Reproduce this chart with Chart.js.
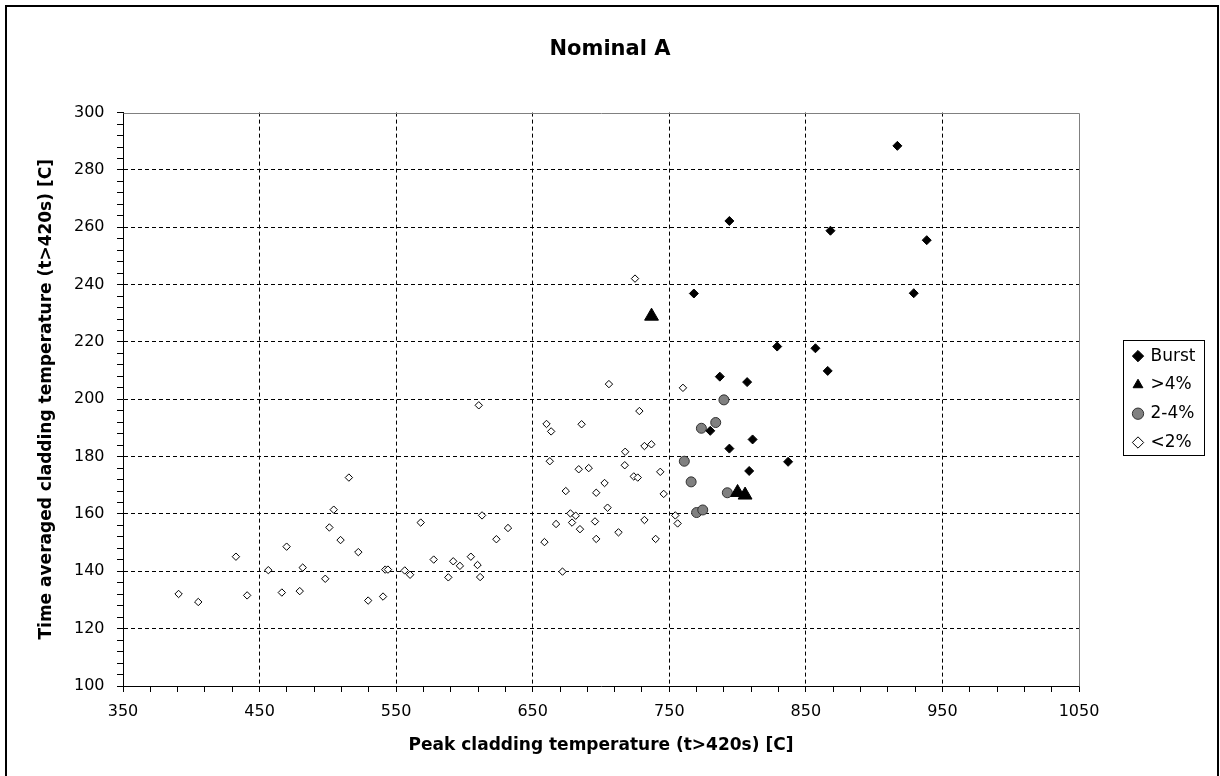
<!DOCTYPE html>
<html>
<head>
<meta charset="utf-8">
<script src="https://cdn.jsdelivr.net/npm/chart.js@4.4.1/dist/chart.umd.min.js"></script>
<style>
  html, body { margin: 0; padding: 0; background: #ffffff; }
  #wrap { position: relative; width: 1220px; height: 776px; }
  canvas { display: block; }
</style>
</head>
<body>
<div id="wrap"><canvas id="c" width="1220" height="776"></canvas></div>
<script>
// ---- data ----
const chartTitle = 'Nominal A';
const xTitle = 'Peak cladding temperature (t>420s) [C]';
const yTitle = 'Time averaged cladding temperature (t>420s) [C]';
const seriesNames = ['Burst', '>4%', '2-4%', '<2%'];

const xTickLabels = ['350', '450', '550', '650', '750', '850', '950', '1050'];
const yTickLabels = ['100', '120', '140', '160', '180', '200', '220', '240', '260', '280', '300'];

const burstX = [917, 794, 868, 938.5, 929, 768, 829, 857, 866, 787, 807, 780, 811, 794, 837, 808.5];
const burstY = [288.4, 262.2, 258.8, 255.5, 237.0, 236.9, 218.4, 217.8, 209.9, 207.9, 206.0, 189.0, 186.0, 182.8, 178.2, 175.0];

const over4X = [737, 800, 805.5];
const over4Y = [229.0, 167.5, 166.6];

const mid24X = [790, 784, 773.5, 761, 766, 792.5, 770, 774.5];
const mid24Y = [199.8, 191.9, 189.9, 178.4, 171.2, 167.4, 160.5, 161.4];

const under2X = [390.7, 405.1, 432.7, 440.9, 456.4, 466.3, 469.8, 479.4, 481.6, 498.1,
                 501.1, 504.3, 509.3, 515.4, 522.3, 529.5, 540.4, 542, 544, 556.3,
                 560.2, 568, 577.5, 588.2, 591.8, 596.7, 604.7, 609.6, 611.5, 610.5,
                 612.9, 623.4, 631.9, 658.6, 660.1, 663.5, 662.5, 667.1, 671.8, 674.2,
                 677.6, 678.8, 681.5, 683.7, 684.6, 685.8, 691, 695.6, 696.5, 696.5,
                 702.6, 704.8, 705.8, 712.8, 717.4, 717.7, 724, 726.9, 728.1, 731.8,
                 736.9, 731.8, 740, 743.4, 745.9, 754.4, 756.1, 724.9, 760];
const under2Y = [132.1, 129.3, 145.1, 131.6, 140.4, 132.6, 148.6, 133.1, 141.3, 137.4,
                 155.3, 161.5, 150.9, 172.7, 146.7, 129.8, 131.2, 140.6, 140.6, 140.3,
                 138.8, 157.0, 144.1, 137.9, 143.5, 141.9, 145.1, 142.2, 138.0, 197.9,
                 159.5, 151.2, 155.1, 150.2, 191.4, 188.8, 178.4, 156.5, 139.9, 168.0,
                 160.2, 157.0, 159.4, 175.6, 154.7, 191.3, 176.0, 157.4, 167.4, 151.3,
                 170.8, 162.2, 205.3, 153.6, 177.0, 181.7, 173.1, 172.7, 195.9, 183.7,
                 184.3, 157.9, 151.3, 174.7, 167.0, 159.5, 156.7, 242.1, 204.0];

const toPoints = (xs, ys) => xs.map((x, i) => ({ x: x, y: ys[i] }));

// ---- styling ----
const FONT = 'DejaVu Sans';
const xMajor = new Set(xTickLabels.map(Number));
const yMajor = new Set(yTickLabels.map(Number));
const X_MIN = Number(xTickLabels[0]), X_MAX = Number(xTickLabels[xTickLabels.length - 1]);
const Y_MIN = Number(yTickLabels[0]), Y_MAX = Number(yTickLabels[yTickLabels.length - 1]);

const frameAndLegendBox = {
  id: 'frameAndLegendBox',
  beforeLayout(chart) {
    const lg = chart.legend;
    if (lg && !lg._fixedWidth) {
      const orig = lg.fit.bind(lg);
      lg.fit = function () { orig(); this.width = 141; };
      lg._fixedWidth = true;
    }
  },
  afterLayout(chart) {
    const lg = chart.legend;
    if (!lg) return;
    const pad = lg.options.labels.padding;
    const w = lg.width;
    lg.left = 1134 - pad;
    lg.right = lg.left + w;
  },
  beforeDraw(chart) {
    const ctx = chart.ctx;
    ctx.save();
    ctx.fillStyle = '#ffffff';
    ctx.fillRect(0, 0, chart.width, chart.height);
    ctx.strokeStyle = '#000000';
    ctx.lineWidth = 2;
    ctx.strokeRect(6, 6, 1212, 800);
    ctx.restore();
  },
  beforeDatasetsDraw(chart) {
    const { ctx, chartArea: a } = chart;
    ctx.save();
    ctx.strokeStyle = '#808080';
    ctx.lineWidth = 1;
    ctx.beginPath();
    ctx.moveTo(Math.round(a.left) + 0.5, Math.round(a.top) + 0.5);
    ctx.lineTo(Math.round(a.right) + 0.5, Math.round(a.top) + 0.5);
    ctx.lineTo(Math.round(a.right) + 0.5, Math.round(a.bottom) + 0.5);
    ctx.stroke();
    ctx.restore();
  },
  afterDraw(chart) {
    const lg = chart.legend;
    if (!lg || !lg.columnSizes || !lg.columnSizes.length) return;
    const ctx = chart.ctx;
    const opts = lg.options.labels;
    const pad = opts.padding;
    const fs = opts.font.size;
    const itemH = Math.max(fs, opts.boxHeight);
    const colH = lg.columnSizes[0].height;
    const startY = (lg.top + pad + lg.bottom - colH) / 2;
    const n = lg.legendItems.length;
    const firstC = startY + itemH / 2;
    const lastC = startY + (n - 1) * (itemH + pad) + itemH / 2;
    ctx.save();
    ctx.font = fs + 'px "' + FONT + '"';
    let maxW = 0;
    lg.legendItems.forEach(it => { maxW = Math.max(maxW, ctx.measureText(it.text).width); });
    const x0 = lg.left + pad;
    const textX = x0 + opts.boxWidth + fs / 2;
    const left = x0 - 11, right = textX + maxW + 9;
    const top = firstC - 16, bottom = lastC + 13;
    ctx.strokeStyle = '#000000';
    ctx.lineWidth = 1;
    ctx.strokeRect(Math.round(left) + 0.5, Math.round(top) + 0.5, Math.round(right - left), Math.round(bottom - top));
    ctx.restore();
  }
};

new Chart(document.getElementById('c'), {
  type: 'scatter',
  data: {
    datasets: [
      { label: seriesNames[0], data: toPoints(burstX, burstY), pointStyle: 'rectRot', pointRadius: 4.5,
        backgroundColor: '#000000', borderColor: '#000000', borderWidth: 1 },
      { label: seriesNames[1], data: toPoints(over4X, over4Y), pointStyle: 'triangle', pointRadius: 8,
        backgroundColor: '#000000', borderColor: '#000000', borderWidth: 1 },
      { label: seriesNames[2], data: toPoints(mid24X, mid24Y), pointStyle: 'circle', pointRadius: 5,
        backgroundColor: '#808080', borderColor: '#333333', borderWidth: 1 },
      { label: seriesNames[3], data: toPoints(under2X, under2Y), pointStyle: 'rectRot', pointRadius: 3.7,
        backgroundColor: '#ffffff', borderColor: '#000000', borderWidth: 1 }
    ]
  },
  options: {
    responsive: false,
    animation: false,
    events: [],
    layout: { padding: 0 },
    plugins: {
      tooltip: { enabled: false },
      title: {
        display: true,
        text: chartTitle,
        color: '#000000',
        font: { family: FONT, size: 21, weight: 'bold' },
        padding: { top: 37, bottom: 50.4 }
      },
      legend: {
        display: true,
        position: 'right',
        fullSize: false,
        align: 'center',
        labels: {
          usePointStyle: true,
          boxWidth: 8,
          boxHeight: 8,
          padding: 11.8,
          color: '#000000',
          font: { family: FONT, size: 17 }
        }
      }
    },
    scales: {
      x: {
        type: 'linear',
        min: X_MIN,
        max: X_MAX,
        afterFit(scale) { scale.height = 90; },
        ticks: {
          stepSize: 20,
          autoSkip: false,
          maxRotation: 0,
          minRotation: 0,
          padding: 10,
          color: '#000000',
          font: { family: FONT, size: 16 },
          callback: (v) => (xMajor.has(v) ? String(v) : '')
        },
        grid: {
          drawTicks: true,
          tickLength: 6,
          tickColor: '#000000',
          tickWidth: 1,
          tickBorderDash: [],
          lineWidth: 1,
          borderDash: [4, 3],
          color: (c) => {
            const v = c.tick ? c.tick.value : null;
            return (v !== null && xMajor.has(v) && v !== X_MIN && v !== X_MAX) ? '#000000' : 'rgba(0,0,0,0)';
          }
        },
        border: { display: true, color: '#000000', width: 1, dash: [4, 3] },
        title: {
          display: true,
          text: xTitle,
          color: '#000000',
          font: { family: FONT, size: 17, weight: 'bold' },
          padding: { top: 0, bottom: 20 }
        }
      },
      y: {
        type: 'linear',
        min: Y_MIN,
        max: Y_MAX,
        afterFit(scale) { scale.width = 123; },
        ticks: {
          stepSize: 4,
          autoSkip: false,
          padding: 12.5,
          color: '#000000',
          font: { family: FONT, size: 16 },
          callback: (v) => (yMajor.has(v) ? String(v) : '')
        },
        grid: {
          drawTicks: true,
          tickLength: 6,
          tickColor: '#000000',
          tickWidth: 1,
          tickBorderDash: [],
          lineWidth: 1,
          borderDash: [4, 3],
          color: (c) => {
            const v = c.tick ? c.tick.value : null;
            return (v !== null && yMajor.has(v) && v !== Y_MIN && v !== Y_MAX) ? '#000000' : 'rgba(0,0,0,0)';
          }
        },
        border: { display: true, color: '#000000', width: 1, dash: [4, 3] },
        title: {
          display: true,
          text: yTitle,
          color: '#000000',
          font: { family: FONT, size: 17, weight: 'bold' },
          padding: { top: 36.8, bottom: 0 }
        }
      }
    }
  },
  plugins: [frameAndLegendBox]
});
</script>
</body>
</html>
